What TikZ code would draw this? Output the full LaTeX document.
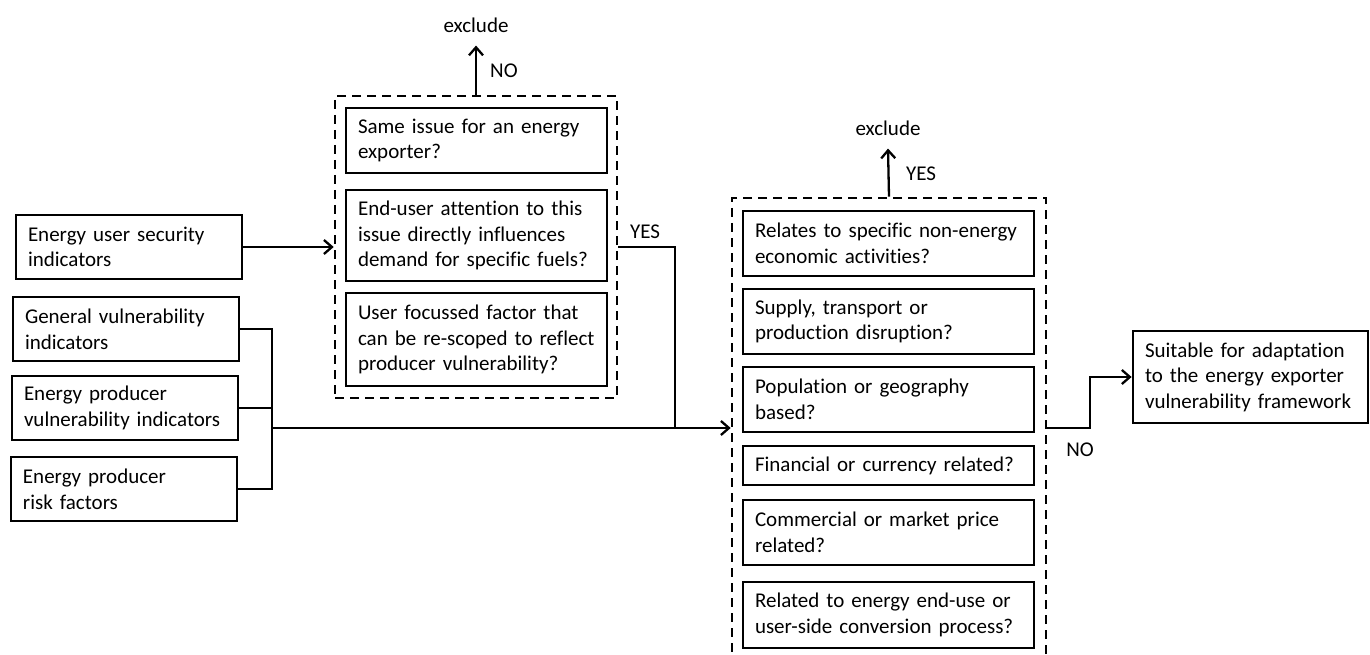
\documentclass[tikz,border=0pt]{standalone}
\usepackage{fontspec}
\setmainfont{Carlito}[Ligatures={NoCommon,NoContextual}]
\usetikzlibrary{arrows.meta}
\tikzset{
  tbox/.style n args={3}{draw, line width=2.8pt, align=left, minimum width=#1, minimum height=#2,
    text width=#3, inner xsep=12pt, inner ysep=0pt, font=\fontsize{21pt}{25.6pt}\selectfont},
  dbox/.style n args={2}{draw, line width=2.6pt, dash pattern=on 9pt off 6pt, minimum width=#1, minimum height=#2, inner sep=0pt},
  conn/.style={line width=2.3pt},
  arr/.style={line width=2.3pt, -{Straight Barb[length=8pt,width=14pt,line width=2.3pt]}},
  lbl/.style={font=\fontsize{21pt}{25.6pt}\selectfont, inner sep=0pt},
  excl/.style={font=\fontsize{21pt}{25.6pt}\selectfont, inner xsep=0pt, inner ysep=13pt}
}
\begin{document}
\begin{tikzpicture}[x=1pt,y=-1pt]
\useasboundingbox (0,0) rectangle (1370,655);
\clip (0,0) rectangle (1370,655);

% left input boxes
\node[tbox={226pt}{64pt}{202pt}] (eus) at (129,247) {Energy user security\\indicators};
\node[tbox={226pt}{64pt}{202pt}] (gv) at (126,329) {General vulnerability\\indicators};
\node[tbox={226pt}{64pt}{202pt}] (epv) at (125,408) {Energy producer\\vulnerability indicators};
\node[tbox={226pt}{64pt}{202pt}] (eprf) at (124,489) {Energy producer\\risk factors};

% first dashed group
\node[dbox={282pt}{302pt}] (d1) at (476,247) {};
\node[tbox={261pt}{65pt}{237pt}] (q1) at (476.5,140.5) {Same issue for an energy\\exporter?};
\node[tbox={261pt}{91pt}{237pt}] (q2) at (476.5,235.5) {End-user attention to this\\issue directly influences\\demand for specific fuels?};
\node[tbox={261pt}{93pt}{237pt}] (q3) at (476.5,339.5) {User focussed factor that\\can be re-scoped to reflect\\producer vulnerability?};
\node[excl] (ex1) at (476,25) {exclude};
\node[lbl, anchor=west] (no1) at (490,71) {NO};

% second dashed group
\node[dbox={314pt}{502pt}] (d2) at (889,449) {};
\node[tbox={291pt}{65pt}{267pt}] (r1) at (888.5,243.5) {Relates to specific non-energy\\economic activities?};
\node[tbox={291pt}{65pt}{267pt}] (r2) at (888.5,321.5) {Supply, transport or\\production disruption?};
\node[tbox={291pt}{65pt}{267pt}] (r3) at (888.5,399.5) {Population or geography\\based?};
\node[tbox={291pt}{39pt}{267pt}] (r4) at (888.5,465.5) {Financial or currency related?};
\node[tbox={291pt}{65pt}{267pt}] (r5) at (888.5,532.5) {Commercial or market price\\related?};
\node[tbox={291pt}{66pt}{267pt}] (r6) at (888.5,615) {Related to energy end-use or\\user-side conversion process?};
\node[excl] (ex2) at (888,128) {exclude};
\node[lbl, anchor=west] (yes2) at (906,174) {YES};

% result box
\node[tbox={235pt}{92pt}{211pt}] (fin) at (1250.5,377) {Suitable for adaptation\\to the energy exporter\\vulnerability framework};

% labels
\node[lbl] (yes1) at (645,232) {YES};
\node[lbl] (no2) at (1080,450) {NO};

% junction coordinates
\coordinate (br) at (272,428);
\coordinate (m) at (675,428);
\coordinate (n) at (1090,428);

% connectors
\draw[arr] (eus.east) -- (eus.east -| d1.west);
\draw[conn] (gv.east) -| (br) |- (eprf.east);
\draw[conn] (epv.east) -- (epv.east -| br);
\draw[arr] (br) -- (br -| d2.west);
\draw[conn] (d1.east) -| (m);
\draw[arr] (d1.north) -- (ex1.south);
\draw[arr] (d2.north) -- (ex2.south);
\draw[arr] (d2.east |- n) -- (n) |- (fin.west);
\end{tikzpicture}
\end{document}
